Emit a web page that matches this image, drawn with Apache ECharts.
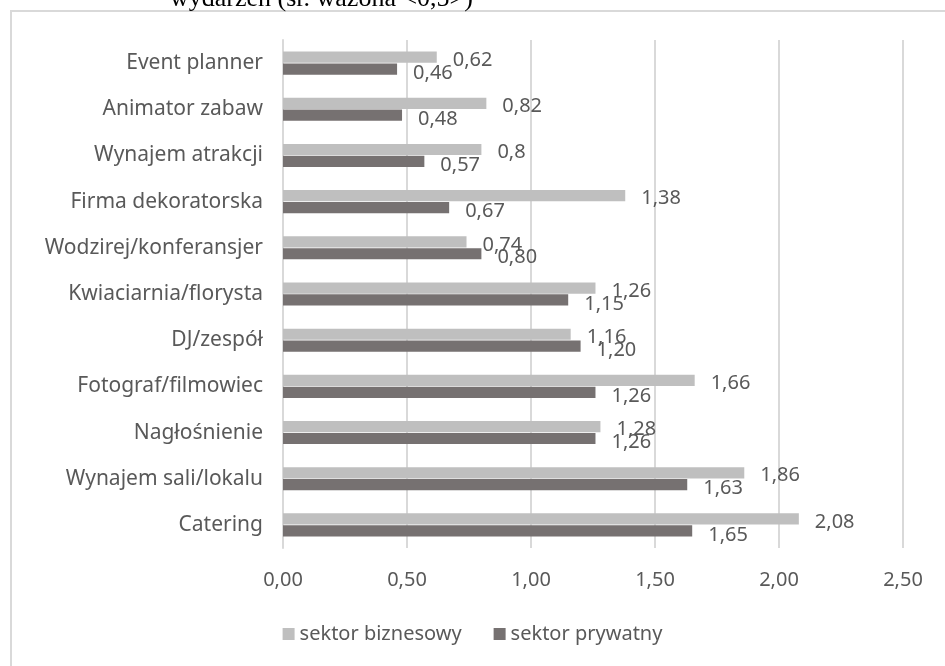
<!DOCTYPE html>
<html>
<head>
<meta charset="utf-8">
<script src="https://cdn.jsdelivr.net/npm/echarts@6/dist/echarts.min.js"></script>
<style>
  html, body { margin: 0; padding: 0; background: #fff; }
  #main { width: 945px; height: 666px; }
</style>
</head>
<body>
<div id="main"></div>
<script>
var categories = ['Event planner', 'Animator zabaw', 'Wynajem atrakcji', 'Firma dekoratorska',
  'Wodzirej/konferansjer', 'Kwiaciarnia/florysta', 'DJ/zespół', 'Fotograf/filmowiec',
  'Nagłośnienie', 'Wynajem sali/lokalu', 'Catering'];
var biznesowy = [0.62, 0.82, 0.8, 1.38, 0.74, 1.26, 1.16, 1.66, 1.28, 1.86, 2.08];
var prywatny = [0.46, 0.48, 0.57, 0.67, 0.80, 1.15, 1.20, 1.26, 1.26, 1.63, 1.65];

var myChart = echarts.init(document.getElementById('main'));
var font = 'Noto Sans';
var textColor = '#595959';

var option = {
  animation: false,
  textStyle: { fontFamily: font },
  graphic: [
    {
      type: 'rect',
      shape: { x: 11, y: 11, width: 1000, height: 700 },
      style: { fill: 'none', stroke: '#d9d9d9', lineWidth: 2 }
    },
    {
      type: 'text',
      x: 170, y: 12,
      style: {
        text: 'wydarzeń (śr. ważona <0,5>)',
        font: '26px "Liberation Serif"',
        fill: '#000',
        verticalAlign: 'bottom'
      }
    }
  ],
  legend: {
    data: ['sektor biznesowy', 'sektor prywatny'],
    bottom: 17,
    left: 'center',
    icon: 'rect',
    itemWidth: 12,
    itemHeight: 12,
    itemGap: 32,
    textStyle: { color: textColor, fontSize: 20, fontFamily: font }
  },
  grid: { left: 283, right: 42, top: 40, bottom: 118, containLabel: false },
  xAxis: {
    type: 'value',
    min: 0,
    max: 2.5,
    interval: 0.5,
    axisLine: { show: false },
    axisTick: { show: false },
    axisLabel: {
      color: textColor, fontSize: 20, fontFamily: font, margin: 22,
      formatter: function (v) { return v.toFixed(2).replace('.', ','); }
    },
    splitLine: { lineStyle: { color: '#d9d9d9', width: 2 } }
  },
  yAxis: {
    type: 'category',
    data: categories,
    inverse: true,
    axisLine: { show: true, lineStyle: { color: '#d9d9d9', width: 2 } },
    axisTick: { show: false },
    axisLabel: { color: textColor, fontSize: 21, fontFamily: font, margin: 20 }
  },
  series: [
    {
      name: 'sektor biznesowy',
      type: 'bar',
      data: biznesowy,
      barGap: '6%',
      barCategoryGap: '50%',
      itemStyle: { color: '#bfbfbf' },
      label: {
        show: true, position: 'right', distance: 16, offset: [0, 3],
        color: textColor, fontSize: 20, fontFamily: font,
        formatter: function (p) { return String(p.value).replace('.', ','); }
      }
    },
    {
      name: 'sektor prywatny',
      type: 'bar',
      data: prywatny,
      itemStyle: { color: '#767171' },
      label: {
        show: true, position: 'right', distance: 16, offset: [0, 4],
        color: textColor, fontSize: 20, fontFamily: font,
        formatter: function (p) { return p.value.toFixed(2).replace('.', ','); }
      }
    }
  ]
};

myChart.setOption(option);
</script>
</body>
</html>
